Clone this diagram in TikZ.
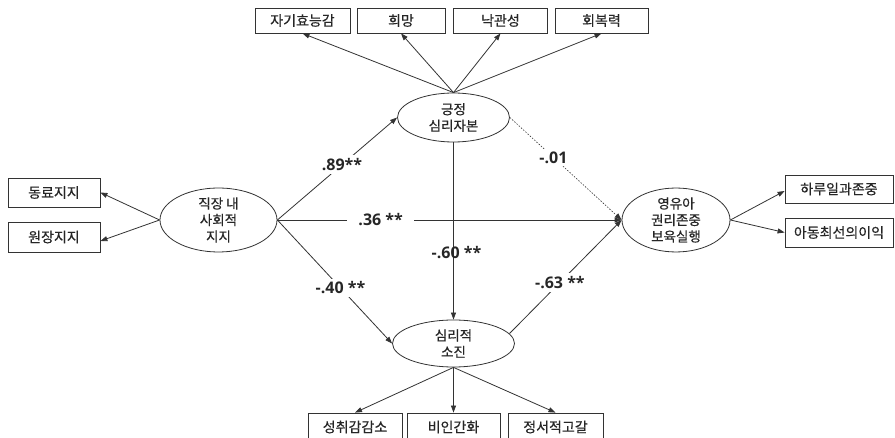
\documentclass[tikz,border=0pt]{standalone}
\usepackage{fontspec}
\setmainfont{Noto Sans CJK KR}[FakeBold=0.5]
\newfontfamily\labfont{Open Sans}
\usetikzlibrary{arrows.meta,shapes.geometric}
\begin{document}
\begin{tikzpicture}[x=1pt,y=-1pt,
  every node/.style={text=black!85},
  obs/.style={draw=black!80,line width=0.8pt,rectangle,inner sep=0pt,font=\fontsize{14}{16}\selectfont},
  lat/.style={draw=black!80,line width=0.8pt,ellipse,inner sep=0pt,align=center,font=\fontsize{13.5}{16.5}\selectfont},
  conn/.style={draw=black!80,line width=0.8pt,-{Triangle[length=7pt,width=5pt]}},
  lab/.style={font=\labfont\bfseries\fontsize{16}{18}\selectfont,inner sep=3pt},
  labw/.style={lab,fill=white}]
\useasboundingbox (0,0) rectangle (895,438);
\clip (0,0) rectangle (895,438);
\fill[white] (0,0) rectangle (895,438);
% latent variables
\node[lat,minimum width=117pt,minimum height=54pt] (L) at (218.5,220) {직장 내\\사회적\\지지};
\node[lat,minimum width=112pt,minimum height=49pt] (P) at (453.5,117.5) {긍정\\심리자본};
\node[lat,minimum width=108pt,minimum height=60pt] (R) at (676,220) {영유아\\권리존중\\보육실행};
\node[lat,minimum width=122pt,minimum height=47pt] (B) at (453.5,343.5) {심리적\\소진};
% observed: top
\node[obs,minimum width=95pt,minimum height=25pt] (t1) at (302.5,20.5) {자기효능감};
\node[obs,minimum width=88pt,minimum height=25pt] (t2) at (401,20.5) {희망};
\node[obs,minimum width=94pt,minimum height=25pt] (t3) at (500.5,20.5) {낙관성};
\node[obs,minimum width=93pt,minimum height=25pt] (t4) at (601.5,20.5) {회복력};
% left
\node[obs,minimum width=92pt,minimum height=29pt] (l1) at (54,192.5) {동료지지};
\node[obs,minimum width=92pt,minimum height=30pt] (l2) at (54,237) {원장지지};
% right
\node[obs,minimum width=108pt,minimum height=28pt] (r1) at (839,189) {하루일과존중};
\node[obs,minimum width=108pt,minimum height=29pt] (r2) at (839,232.5) {아동최선의이익};
% bottom
\node[obs,minimum width=94pt,minimum height=28pt] (b1) at (355,427) {성취감감소};
\node[obs,minimum width=93pt,minimum height=28pt] (b2) at (453.5,427) {비인간화};
\node[obs,minimum width=95pt,minimum height=28pt] (b3) at (555.5,427) {정서적고갈};
% measurement arrows
\foreach \t in {t1,t2,t3,t4} \draw[conn] (P.north) -- (\t.south);
\draw[conn] (L.west) -- (l1.east);
\draw[conn] (L.west) -- ([yshift=-4pt]l2.east);
\draw[conn] (R.east) -- ([yshift=-2pt]r1.west);
\draw[conn] (R.east) -- (r2.west);
\foreach \b in {b1,b2,b3} \draw[conn] (B.south) -- (\b.north);
% structural paths
\draw[conn] (L.east) -- (P.west) node[labw,pos=0.54] {.89**};
\draw[conn] (L.east) -- (R.west) node[labw,pos=0.30,inner xsep=11pt] {.36 **};
\draw[conn] (L.east) -- (B.west) node[labw,pos=0.55] {-.40 **};
\draw[conn] (P.south) -- (B.north) node[lab,pos=0.62,xshift=3pt] {-.60 **};
\draw[conn,line width=0.6pt,dash pattern=on 1.5pt off 1.5pt] (P.east) -- (R.west) node[labw,pos=0.39] {-.01};
\draw[conn] (B.10) -- (R.west) node[labw,pos=0.45] {-.63 **};
\end{tikzpicture}
\end{document}
